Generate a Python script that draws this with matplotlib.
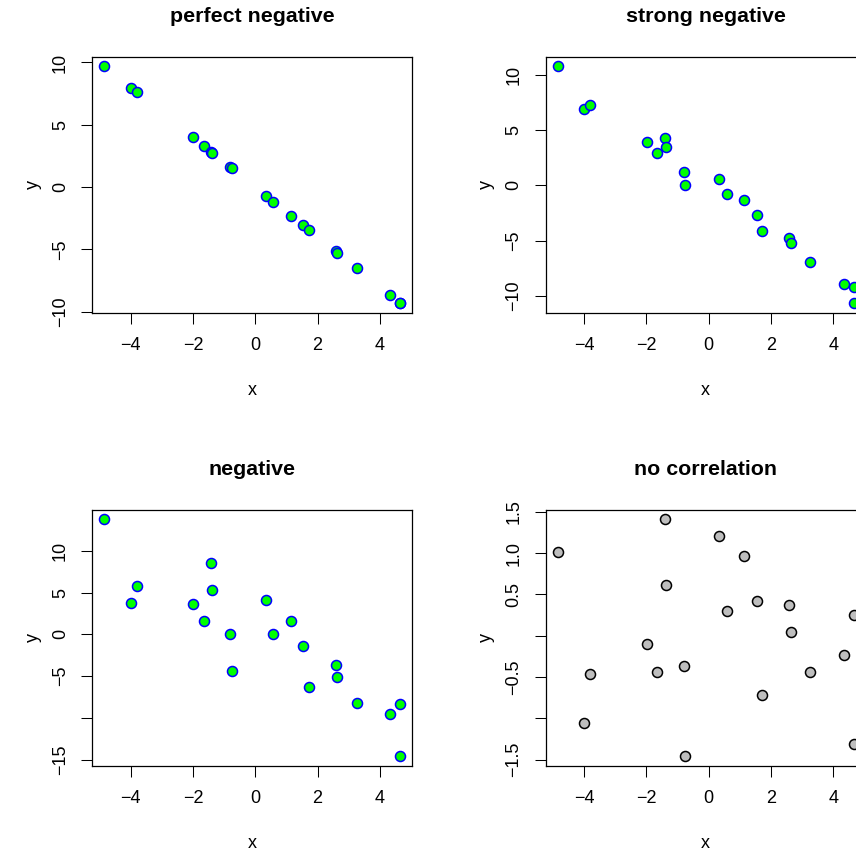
import matplotlib.pyplot as plt

plt.rcParams['font.family'] = ['Liberation Sans', 'DejaVu Sans']

# shared x values
x = [-4.85, -3.99, -3.81, -1.99, -1.66, -1.41, -1.38, -0.80, -0.75, 0.34,
     0.58, 1.15, 1.54, 1.71, 2.58, 2.63, 3.25, 4.33, 4.66, 4.65]

y_perfect = [9.70, 7.98, 7.62, 3.98, 3.32, 2.82, 2.76, 1.60, 1.50, -0.68,
             -1.16, -2.30, -3.08, -3.42, -5.16, -5.26, -6.50, -8.66, -9.32, -9.30]
y_strong = [10.77, 6.91, 7.27, 3.93, 2.93, 4.32, 3.47, 1.24, 0.06, 0.58,
            -0.81, -1.29, -2.65, -4.16, -4.80, -5.21, -6.94, -8.90, -9.14, -10.65]
y_negative = [13.80, 3.72, 5.80, 3.60, 1.64, 8.52, 5.28, 0.08, -4.36, 4.16,
              0.08, 1.60, -1.36, -6.36, -3.68, -5.08, -8.24, -9.60, -8.36, -14.60]
y_none = [1.01, -1.06, -0.46, -0.10, -0.44, 1.41, 0.61, -0.37, -1.46, 1.21,
          0.30, 0.97, 0.42, -0.72, 0.37, 0.05, -0.44, -0.23, 0.25, -1.31]

titles = ["perfect negative", "strong negative", "negative", "no correlation"]
x_ticks = [-4, -2, 0, 2, 4]
x_ticklabels = ["\u22124", "\u22122", "0", "2", "4"]
y_ticks = [
    [10, 5, 0, -5, -10],
    [10, 5, 0, -5, -10],
    [10, 5, 0, -5, -10, -15],
    [1.5, 1.0, 0.5, 0.0, -0.5, -1.0, -1.5],
]
y_ticklabels = [
    ["10", "5", "0", "\u22125", "\u221210"],
    ["10", "5", "0", "\u22125", "\u221210"],
    ["10", "5", "0", "\u22125", "", "\u221215"],
    ["1.5", "1.0", "0.5", "", "\u22120.5", "", "\u22121.5"],
]

fig = plt.figure(figsize=(8.56, 8.51), dpi=100)
W, H = 320 / 856, 256 / 851
pos = [
    [92.3 / 856, (851 - 312.7) / 851, W, H],
    [545.7 / 856, (851 - 312.7) / 851, W, H],
    [92.3 / 856, (851 - 765.7) / 851, W, H],
    [545.7 / 856, (851 - 765.7) / 851, W, H],
]
series = [y_perfect, y_strong, y_negative, y_none]

for i in range(4):
    ax = fig.add_axes(pos[i])
    if i == 3:
        fc, ec = "#BEBEBE", "black"
    else:
        fc, ec = "#00FF00", "blue"
    ax.scatter(x, series[i], s=52, facecolor=fc, edgecolor=ec, linewidth=1.1,
               zorder=3, clip_on=False)
    ax.margins(0.04)
    ax.set_xticks(x_ticks)
    ax.set_xticklabels(x_ticklabels)
    ax.set_yticks(y_ticks[i])
    ax.set_yticklabels(y_ticklabels[i], rotation=90, va="center")
    ax.tick_params(direction="out", length=7.7, width=0.75, labelsize=13,
                   color="black")
    ax.tick_params(axis="x", pad=9.5)
    ax.tick_params(axis="y", pad=9)
    for sp in ax.spines.values():
        sp.set_linewidth(0.9)
    ax.set_title(titles[i], fontweight="bold", fontsize=15.4, pad=25)
    ax.set_xlabel("x", fontsize=13)
    ax.set_ylabel("y", fontsize=13)
    ax.xaxis.label.set_va("center")
    ax.yaxis.label.set_va("center")
    ax.xaxis.set_label_coords(0.5, -(390 - 312.7) / 256)
    ax.yaxis.set_label_coords(-(92.3 - 33) / 320, 0.5)

fig.savefig("out.png", dpi=100)
